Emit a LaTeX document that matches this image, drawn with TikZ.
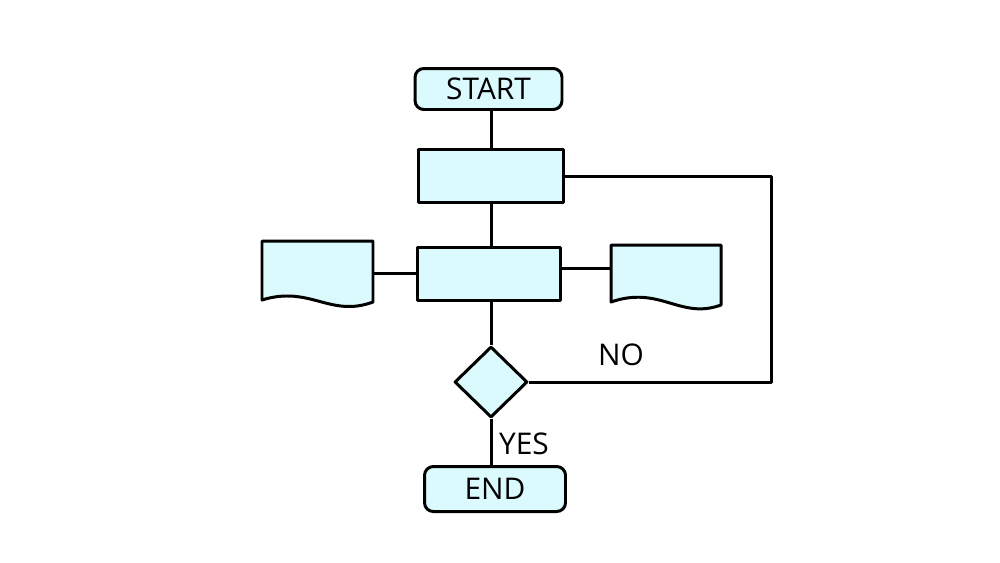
\documentclass[tikz,border=0pt]{standalone}
\usepackage{fontspec}
\setmainfont{Open Sans}
\usepackage{tikz}
\usetikzlibrary{shapes.geometric}
\usepackage{xcolor}
\definecolor{flowfill}{HTML}{DAFAFD}

\begin{document}
\begin{tikzpicture}[x=0.02cm, y=-0.02cm, line width=1.7pt, line join=round]
    \tikzset{
        term/.style={draw, rounded corners=5pt, fill=flowfill, inner sep=0pt,
            font=\fontsize{17}{20}\selectfont},
        proc/.style={draw, fill=flowfill, inner sep=0pt, minimum height=1.06cm},
        decision/.style={draw, diamond, fill=flowfill, inner sep=0pt,
            minimum width=1.46cm, minimum height=1.42cm},
        docspot/.style={inner sep=0pt, minimum width=2.2cm, minimum height=1.2cm},
        label/.style={font=\fontsize{17}{20}\selectfont}
    }
    \useasboundingbox [fill=white] (0,0) rectangle (1000,562);
    % Terminals
    \node [term, minimum width=2.94cm, minimum height=0.82cm] (start) at (488.5,89) {START};
    \node [term, minimum width=2.82cm, minimum height=0.9cm] (finish) at (495,489) {END};
    % Process boxes
    \node [proc, minimum width=2.9cm] (proc1) at (491,176) {};
    \node [proc, minimum width=2.86cm] (proc2) at (489,274) {};
    % Decision
    \node [decision] (check) at (491,382) {};
    % Documents
    \draw [fill=flowfill] (262,241) -- (373,241) -- (373,302)
        .. controls (330,318) and (310,285) .. (262,300) -- cycle;
    \draw [fill=flowfill] (611,245) -- (721,245) -- (721,305)
        .. controls (680,320) and (660,285) .. (611,302) -- cycle;
    \node [docspot] (docL) at (317.5,273) {};
    \node [docspot] (docR) at (666,268) {};
    \coordinate (loopX) at (771,176);
    % Connectors
    \draw (start.south -| proc1.north) -- (proc1.north);
    \draw (proc1.south -| check.north) -- (check.north |- proc2.north);
    \draw (proc2.south -| check.north) -- (check.north);
    \draw (docL.east) -- (docL.east -| proc2.west);
    \draw (docR.west -| proc2.east) -- (docR.west);
    \draw (check.east) -| (loopX) -- (proc1.east);
    \draw (check.south) -- (check.south |- finish.north);
    % Labels
    \node [label] (no) at (621,355) {NO};
    \node [label] (yes) at (524,444) {YES};
\end{tikzpicture}
\end{document}
